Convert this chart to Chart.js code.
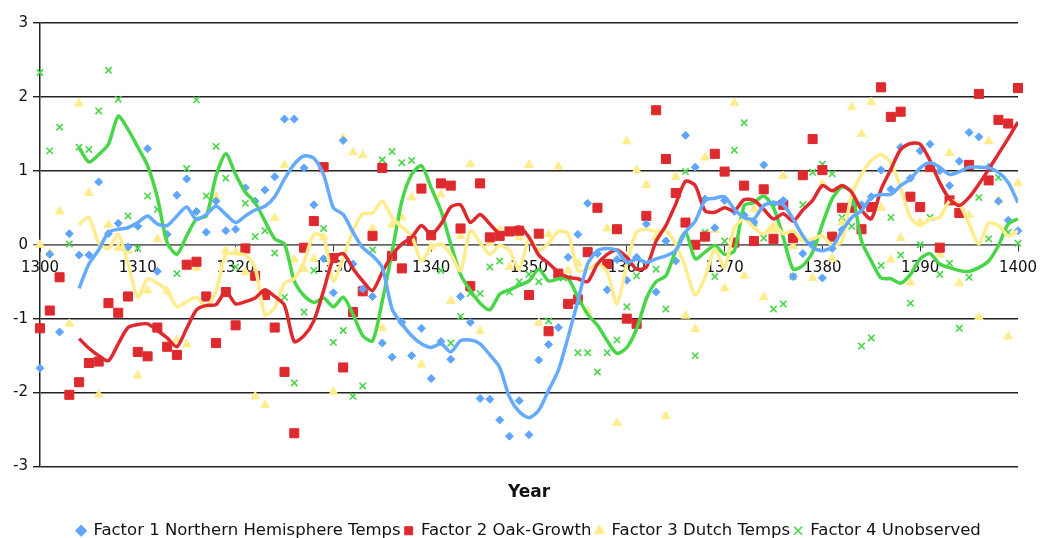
<!DOCTYPE html>
<html>
<head>
<meta charset="utf-8">
<title>Factor chart</title>
<script src="https://cdn.jsdelivr.net/npm/chart.js@4/dist/chart.umd.min.js"></script>
<style>
  html, body { margin: 0; padding: 0; background: #fff; }
  #wrap { width: 1041px; height: 538px; }
</style>
</head>
<body>
<div id="wrap"><canvas id="myChart" width="1041" height="538"></canvas></div>
<script>
// ==============================|| DATA ||============================== //
const years = [];
for (let y = 1300; y <= 1400; y++) years.push(y);
const lineYears = years.slice(4); // smoothed lines start in 1304

const seriesNames = [
  'Factor 1 Northern Hemisphere Temps',
  'Factor 2 Oak-Growth',
  'Factor 3 Dutch Temps',
  'Factor 4 Unobserved'
];
const yTicks = [-3, -2, -1, 0, 1, 2, 3];

// yearly factor values 1300..1400
const factor1 = [
  -1.67,-0.13,-1.18,0.15,-0.14,-0.14,0.85,0.15,0.29,-0.03,
  0.25,1.30,-0.36,0.14,0.67,0.89,0.45,0.17,0.59,0.19,
  0.21,0.77,0.59,0.74,0.92,1.70,1.70,1.04,0.54,-0.19,
  -0.65,1.41,-0.26,-0.60,-0.70,-1.33,-1.52,-1.05,-1.50,-1.13,
  -1.81,-1.31,-1.55,-0.70,-1.05,-2.08,-2.09,-2.37,-2.59,-2.11,
  -2.57,-1.56,-1.35,-1.12,-0.17,0.14,0.56,-0.12,-0.61,-0.20,
  -0.48,-0.17,0.28,-0.64,0.05,-0.22,1.48,1.05,0.62,0.23,
  0.60,0.45,0.40,0.30,1.08,0.55,0.60,-0.43,-0.12,0.03,
  -0.45,-0.05,0.20,0.57,0.54,0.65,1.01,0.75,1.32,0.90,
  1.27,1.36,1.00,0.80,1.13,1.52,1.46,1.05,0.59,0.33,
  0.19
];
const factor2 = [
  -1.13,-0.89,-0.44,-2.03,-1.86,-1.60,-1.58,-0.79,-0.92,-0.70,
  -1.45,-1.51,-1.12,-1.38,-1.49,-0.27,-0.23,-0.70,-1.33,-0.64,
  -1.09,-0.05,-0.42,-0.68,-1.12,-1.72,-2.55,-0.04,0.32,1.05,
  -0.18,-1.66,-0.91,-0.63,0.12,1.04,-0.15,-0.32,0.05,0.76,
  0.13,0.83,0.80,0.22,-0.56,0.83,0.10,0.12,0.18,0.19,
  -0.68,0.15,-1.17,-0.39,-0.80,-0.74,-0.10,0.50,-0.26,0.21,
  -1.00,-1.07,0.39,1.82,1.16,0.70,0.30,0.00,0.11,1.23,
  0.99,0.03,0.80,0.05,0.75,0.08,0.54,0.09,0.94,1.43,
  1.01,0.11,0.50,0.50,0.21,0.51,2.13,1.73,1.80,0.65,
  0.51,1.05,-0.04,0.60,0.43,1.08,2.04,0.87,1.69,1.64,
  2.12
];
const factor3 = [
  0.00,-0.11,0.45,-1.07,1.91,0.70,-2.03,0.27,-0.04,-0.08,
  -1.77,-0.62,0.08,-0.63,-1.29,-1.35,-0.31,-0.73,0.65,-0.08,
  -0.10,-0.37,-2.05,-2.17,0.36,1.08,-0.20,-0.33,-0.19,0.10,
  -1.99,1.44,1.25,1.21,0.22,-1.13,0.27,0.37,0.64,-1.62,
  -0.03,0.68,-0.76,0.12,1.09,-1.17,0.02,0.20,-0.30,0.10,
  1.08,-1.06,0.14,1.06,-0.35,-0.25,-0.90,0.50,0.22,-2.41,
  1.40,1.01,0.81,0.10,-2.32,0.92,-0.96,-1.14,1.18,0.20,
  -0.59,1.92,-0.42,0.48,-0.71,0.20,0.93,-0.02,0.10,-0.45,
  0.82,-0.19,0.30,1.86,1.50,1.93,0.50,-0.20,0.09,-0.51,
  0.30,1.02,-0.13,1.24,-0.52,0.40,-0.98,1.40,0.60,-1.24,
  0.83
];
const factor4 = [
  2.33,1.27,1.59,0.01,1.32,1.29,1.81,2.36,1.97,0.39,
  -0.05,0.66,0.48,-1.39,-0.39,1.03,1.96,0.66,1.33,0.90,
  -0.30,0.56,0.11,0.19,-0.11,-0.71,-1.87,-0.91,-0.35,0.22,
  -1.32,-1.16,-2.05,-1.91,-0.07,1.15,1.26,1.11,1.14,0.77,
  0.10,-0.35,-1.33,-0.97,-0.66,-0.66,-0.30,-0.22,-0.64,-0.50,
  -0.40,-0.50,-1.03,-0.45,-0.45,-1.46,-1.46,-1.72,-1.46,-1.29,
  -0.84,-0.42,0.38,-0.33,-0.87,0.70,0.99,-1.50,0.17,-0.43,
  0.05,1.28,1.65,0.29,0.09,-0.87,-0.80,-0.43,0.54,0.98,
  1.09,0.96,0.37,0.25,-1.37,-1.26,-0.28,0.37,-0.14,-0.79,
  0.00,0.37,-0.40,-0.25,-1.13,-0.44,0.64,0.08,0.91,0.17,
  0.02
];

// smoothed lines 1304..1400
const trend1 = [
  -0.59,-0.26,-0.07,0.17,0.21,0.23,0.30,0.39,0.28,0.26,
  0.39,0.51,0.34,0.41,0.52,0.41,
  0.30,0.39,0.47,0.52,0.65,0.89,1.09,1.20,1.17,0.95,
  0.50,0.41,0.17,-0.04,-0.15,-0.31,-0.87,-1.07,-1.23,-1.34,
  -1.39,-1.34,-1.45,-1.30,-1.29,-1.34,-1.49,-1.66,-2.06,-2.26,
  -2.34,-2.24,-1.97,-1.70,-1.25,-0.76,-0.26,-0.08,-0.05,-0.08,
  -0.24,-0.19,-0.24,-0.19,-0.15,-0.08,0.17,0.32,0.60,0.63,
  0.65,0.48,0.37,0.35,0.53,0.57,0.54,0.35,0.12,-0.04,
  -0.08,-0.03,0.19,0.37,0.46,0.64,0.68,0.68,0.80,0.89,
  1.04,1.11,1.05,0.95,0.99,1.05,1.05,1.04,0.98,0.84,
  0.57
];
const trend2 = [
  -1.27,-1.40,-1.50,-1.57,-1.34,-1.12,-1.08,-1.07,-1.16,-1.26,
  -1.38,-1.13,-0.88,-0.82,-0.81,-0.63,
  -0.80,-0.77,-0.72,-0.61,-0.70,-0.82,-1.31,-1.23,-1.03,-0.62,
  -0.19,-0.12,-0.32,-0.49,-0.62,-0.37,-0.14,0.01,0.10,0.26,
  0.14,0.28,0.51,0.54,0.30,0.41,0.28,0.15,0.17,0.24,
  0.10,-0.14,-0.25,-0.37,-0.44,-0.46,-0.50,-0.26,-0.13,-0.07,
  -0.17,-0.33,-0.30,0.05,0.26,0.55,0.86,0.80,0.46,0.44,
  0.50,0.46,0.61,0.60,0.48,0.35,0.42,0.32,0.47,0.60,
  0.80,0.73,0.80,0.71,0.47,0.35,0.75,1.02,1.29,1.37,
  1.36,1.14,0.84,0.62,0.53,0.64,0.82,1.02,1.23,1.44,
  1.66
];
const trend3 = [
  0.27,0.37,0.02,-0.05,0.14,-0.26,-0.71,-0.46,-0.52,-0.62,
  -0.84,-0.77,-0.71,-0.85,-0.62,-0.13,
  -0.12,-0.14,-0.31,-0.95,-0.85,-0.52,-0.46,-0.23,0.14,0.10,
  -0.49,-0.17,0.19,0.42,0.43,0.59,0.37,0.24,0.12,-0.22,
  -0.04,0.01,-0.13,-0.35,0.19,0.03,-0.13,-0.01,-0.08,-0.33,
  0.08,-0.08,0.02,0.18,0.15,-0.35,-0.33,-0.26,-0.37,-0.80,
  -0.26,0.17,0.21,0.18,0.19,0.01,-0.31,-0.68,-0.44,-0.06,
  -0.31,0.23,0.35,0.23,0.14,0.28,0.15,0.19,0.05,0.08,
  0.12,-0.01,0.05,0.68,0.95,1.14,1.22,1.11,0.77,0.37,
  0.26,0.35,0.37,0.59,0.55,0.28,0.01,0.29,0.26,0.12,
  0.19
];
const trend4 = [
  1.31,1.12,1.22,1.36,1.74,1.56,1.32,1.07,0.64,0.03,
  -0.13,0.12,0.35,0.39,0.93,1.23,
  0.95,0.71,0.57,0.32,0.08,0.01,-0.49,-0.69,-0.78,-0.72,
  -0.84,-0.71,-0.94,-1.23,-1.30,-0.76,-0.10,0.59,0.95,1.07,
  0.77,0.46,0.01,-0.40,-0.62,-0.79,-0.88,-0.67,-0.61,-0.55,
  -0.49,-0.33,-0.49,-0.46,-0.46,-0.71,-0.94,-1.09,-1.30,-1.47,
  -1.39,-1.14,-0.73,-0.50,-0.42,-0.08,0.17,-0.19,-0.10,-0.01,
  -0.13,-0.08,0.53,0.57,0.66,0.50,0.10,-0.33,-0.28,-0.10,
  0.28,0.62,0.78,0.71,0.05,-0.22,-0.45,-0.46,-0.52,-0.40,
  -0.19,-0.12,-0.26,-0.31,-0.35,-0.36,-0.31,-0.22,-0.01,0.28,
  0.35
];

// ==============================|| STYLE ||============================== //
const blue = 'rgb(95,165,255)';
const red = 'rgb(222,42,46)';
const yellow = 'rgb(255,236,140)';
const green = 'rgb(72,214,72)';
const fontFam = '"DejaVu Sans", Verdana, sans-serif';

const toXY = (xs, vals) => xs.map((x, i) => ({ x: x, y: vals[i] }));

const scatterSet = (label, vals, color, style, radius, bw) => ({
  type: 'scatter',
  label: label,
  data: toXY(years, vals),
  backgroundColor: color,
  borderColor: color,
  pointStyle: style,
  pointRadius: radius,
  pointHoverRadius: radius,
  pointBorderWidth: bw,
  clip: false,
  order: 5
});

const trendSet = (vals, color) => ({
  type: 'line',
  label: '_trend',
  data: toXY(lineYears, vals),
  borderColor: color,
  backgroundColor: color,
  borderWidth: 3.5,
  pointRadius: 0,
  tension: 0.25,
  fill: false,
  order: 1
});

new Chart('myChart', {
  data: {
    datasets: [
      scatterSet(seriesNames[0], factor1, blue, 'rectRot', 4, 1),
      scatterSet(seriesNames[1], factor2, red, 'rect', 6.4, 1),
      scatterSet(seriesNames[2], factor3, yellow, 'triangle', 5, 1),
      scatterSet(seriesNames[3], factor4, green, 'crossRot', 4.5, 1.6),
      trendSet(trend1, 'rgb(100,170,255)'),
      trendSet(trend2, red),
      trendSet(trend3, yellow),
      trendSet(trend4, green)
    ]
  },
  options: {
    responsive: false,
    animation: false,
    devicePixelRatio: 1,
    layout: { padding: { top: 23, right: 23, left: 0, bottom: -11 } },
    plugins: {
      tooltip: { enabled: false },
      legend: {
        position: 'bottom',
        fullSize: false,
        labels: {
          usePointStyle: true,
          boxWidth: 8,
          boxHeight: 8,
          padding: 4,
          color: '#111',
          font: { family: fontFam, size: 16.5 },
          filter: item => item.text !== '_trend'
        }
      }
    },
    scales: {
      x: {
        type: 'linear',
        position: { y: 0 },
        min: 1300,
        max: 1400,
        afterFit: s => { s.paddingLeft = 0; s.paddingRight = 0; },
        grid: { drawOnChartArea: false, drawTicks: true, tickLength: 6, color: '#333' },
        border: { display: true, color: '#666', width: 1.5 },
        ticks: {
          stepSize: 10,
          padding: 8,
          color: '#111',
          font: { family: fontFam, size: 15 },
          callback: v => String(v)
        }
      },
      xTitle: {
        type: 'linear',
        axis: 'x',
        position: 'bottom',
        min: 1300,
        max: 1400,
        grid: { display: false },
        border: { display: false },
        ticks: { display: false },
        title: {
          display: true,
          text: 'Year',
          color: '#111',
          padding: { top: 4, bottom: 16 },
          font: { family: fontFam, size: 17, weight: 'bold' }
        },
        afterFit: s => { s.height = 52; }
      },
      y: {
        type: 'linear',
        min: -3,
        max: 3,
        afterFit: s => { s.width = 40; },
        afterBuildTicks: s => { s.ticks = yTicks.map(v => ({ value: v })); },
        grid: {
          color: c => (c.tick && c.tick.value === 0 ? '#777' : '#222'),
          lineWidth: 1.4,
          tickLength: 7
        },
        border: { display: true, color: '#222', width: 1.5 },
        ticks: {
          padding: 5,
          color: '#111',
          font: { family: fontFam, size: 15 },
          callback: v => String(v)
        }
      }
    }
  }
});
</script>
</body>
</html>
